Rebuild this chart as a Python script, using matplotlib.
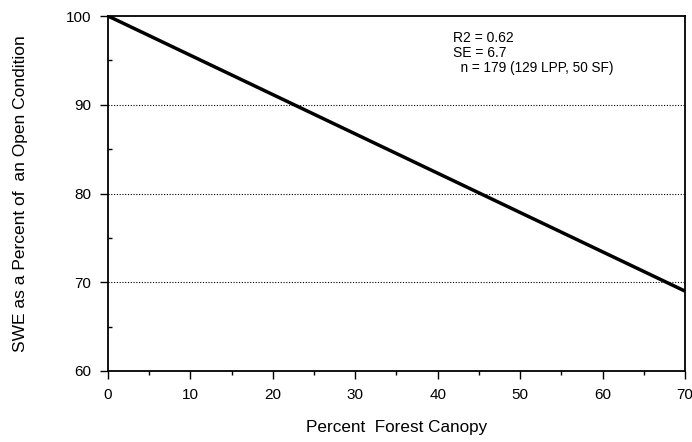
import matplotlib.pyplot as plt
from matplotlib.ticker import MultipleLocator

plt.rcParams['font.family'] = ['Liberation Sans', 'DejaVu Sans']

canopy = [0, 70]
swe = [100, 69.0]
xticks = [0, 10, 20, 30, 40, 50, 60, 70]
yticks = [60, 70, 80, 90, 100]
stats = ["R2 = 0.62", "SE = 6.7", "  n = 179 (129 LPP, 50 SF)"]

fig = plt.figure(figsize=(6.92, 4.42), dpi=100)
ax = fig.add_axes([108/692, 1 - 371/442, 577/692, 355/442])

ax.plot(canopy, swe, color='black', linewidth=2.5, solid_capstyle='butt', zorder=3)

# dotted gridlines
for y in [70, 80, 90]:
    ax.axhline(y, color='black', linewidth=0.8, linestyle=(0, (1, 1.5)), zorder=1)

ax.set_xlim(0, 70)
ax.set_ylim(60, 100)
ax.set_xticks(xticks)
ax.set_yticks(yticks)
ax.xaxis.set_minor_locator(MultipleLocator(5))
ax.yaxis.set_minor_locator(MultipleLocator(5))
ax.tick_params(which='major', direction='out', length=6, width=1, labelsize=11, pad=6)
ax.tick_params(axis='x', which='minor', direction='out', length=3, width=1)
ax.tick_params(axis='y', which='minor', direction='in', length=3, width=1)
for s in ax.spines.values():
    s.set_linewidth(1.3)

ax.set_xlabel("Percent  Forest Canopy", fontsize=12.3, labelpad=13)
ax.set_ylabel("SWE as a Percent of  an Open Condition", fontsize=12.5, labelpad=27)

ax.text(453/692, 1 - 38/442, stats[0], transform=fig.transFigure, fontsize=10, va='center')
ax.text(453/692, 1 - 53/442, stats[1], transform=fig.transFigure, fontsize=10, va='center')
ax.text(453/692, 1 - 68/442, stats[2], transform=fig.transFigure, fontsize=9.8, va='center')

fig.savefig('out.png', dpi=100)
